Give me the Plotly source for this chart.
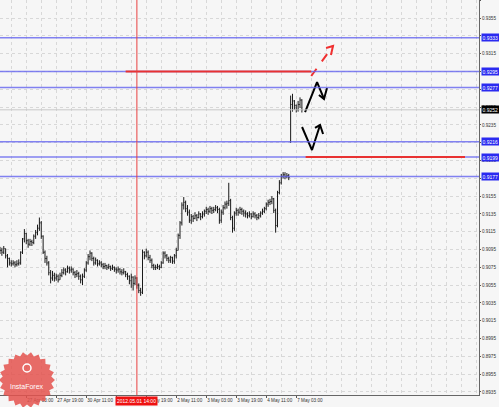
import numpy as np
import plotly.graph_objects as go

# H1 bars, prices in pips (0.9094 -> 9094)
opens = [9096, 9094, 9092, 9096, 9088, 9085, 9080, 9079, 9080, 9078,
         9079, 9080, 9092, 9107, 9113, 9105, 9101, 9104, 9103, 9110,
         9114, 9119, 9125, 9110, 9092, 9085, 9080, 9069, 9063, 9066,
         9063, 9065, 9061, 9066, 9069, 9072, 9070, 9074, 9072, 9073,
         9069, 9067, 9068, 9065, 9061, 9065, 9072, 9080, 9087, 9091,
         9085, 9080, 9083, 9079, 9080, 9078, 9076, 9077, 9075, 9076,
         9074, 9075, 9073, 9072, 9073, 9070, 9069, 9070, 9067, 9065,
         9060, 9064, 9057, 9063, 9055, 9049, 9047, 9092, 9088, 9092,
         9086, 9083, 9077, 9075, 9075, 9076, 9075, 9080, 9091, 9088,
         9085, 9083, 9086, 9082, 9088, 9094, 9111, 9125, 9145, 9148,
         9141, 9137, 9128, 9132, 9130, 9133, 9131, 9135, 9132, 9135,
         9138, 9140, 9138, 9141, 9139, 9140, 9142, 9140, 9128, 9137,
         9142, 9146, 9147, 9150, 9131, 9119, 9136, 9139, 9137, 9140,
         9138, 9136, 9135, 9133, 9135, 9132, 9135, 9133, 9131, 9133,
         9136, 9138, 9141, 9146, 9148, 9149, 9152, 9139, 9122, 9159,
         9170, 9177, 9179, 9177, 9178, 9216, 9258, 9262, 9257, 9252,
         9258, 9263]
highs = [9098, 9097, 9099, 9096, 9090, 9086, 9083, 9083, 9082, 9083,
         9084, 9093, 9108, 9118, 9114, 9107, 9107, 9106, 9112, 9117,
         9123, 9131, 9127, 9111, 9094, 9088, 9082, 9072, 9071, 9069,
         9068, 9067, 9069, 9073, 9075, 9074, 9077, 9076, 9076, 9074,
         9071, 9072, 9070, 9067, 9068, 9074, 9082, 9090, 9094, 9092,
         9087, 9086, 9084, 9083, 9082, 9080, 9080, 9078, 9079, 9077,
         9078, 9076, 9075, 9076, 9074, 9073, 9074, 9071, 9069, 9066,
         9068, 9065, 9066, 9064, 9057, 9052, 9095, 9093, 9096, 9094,
         9089, 9085, 9079, 9078, 9079, 9078, 9082, 9093, 9093, 9090,
         9087, 9088, 9087, 9090, 9097, 9113, 9127, 9148, 9154, 9150,
         9145, 9140, 9135, 9134, 9137, 9135, 9138, 9136, 9138, 9140,
         9143, 9142, 9144, 9143, 9143, 9145, 9144, 9142, 9140, 9145,
         9149, 9150, 9170, 9152, 9133, 9138, 9142, 9141, 9143, 9142,
         9140, 9139, 9137, 9138, 9136, 9138, 9137, 9135, 9136, 9138,
         9141, 9143, 9148, 9151, 9152, 9155, 9153, 9141, 9161, 9173,
         9180, 9182, 9182, 9181, 9180, 9268, 9270, 9263, 9258, 9262,
         9266, 9264]
lows = [9090, 9088, 9090, 9085, 9075, 9077, 9076, 9077, 9075, 9076,
        9077, 9078, 9090, 9103, 9101, 9097, 9099, 9099, 9101, 9107,
        9111, 9116, 9107, 9090, 9080, 9077, 9066, 9057, 9060, 9059,
        9060, 9058, 9061, 9064, 9067, 9066, 9069, 9068, 9069, 9066,
        9063, 9064, 9061, 9057, 9055, 9063, 9070, 9078, 9083, 9082,
        9077, 9078, 9076, 9077, 9075, 9073, 9073, 9072, 9073, 9071,
        9072, 9070, 9068, 9069, 9067, 9066, 9067, 9064, 9061, 9056,
        9052, 9049, 9055, 9051, 9046, 9043, 9045, 9084, 9086, 9083,
        9080, 9074, 9072, 9072, 9073, 9072, 9074, 9079, 9085, 9082,
        9080, 9080, 9079, 9079, 9085, 9094, 9107, 9122, 9140, 9137,
        9133, 9125, 9124, 9126, 9129, 9127, 9130, 9128, 9130, 9132,
        9135, 9134, 9136, 9135, 9136, 9138, 9136, 9124, 9125, 9134,
        9140, 9141, 9144, 9128, 9114, 9116, 9133, 9133, 9135, 9134,
        9132, 9131, 9130, 9131, 9129, 9131, 9130, 9128, 9129, 9131,
        9134, 9136, 9139, 9143, 9145, 9146, 9136, 9114, 9120, 9157,
        9168, 9175, 9174, 9175, 9173, 9215, 9250, 9252, 9249, 9250,
        9254, 9249]
closes = [9094, 9092, 9096, 9088, 9085, 9080, 9079, 9080, 9078, 9079,
          9080, 9092, 9107, 9113, 9105, 9101, 9104, 9103, 9110, 9114,
          9119, 9125, 9110, 9092, 9085, 9080, 9069, 9063, 9066, 9063,
          9065, 9061, 9066, 9069, 9072, 9070, 9074, 9072, 9073, 9069,
          9067, 9068, 9065, 9061, 9065, 9072, 9080, 9087, 9091, 9085,
          9080, 9083, 9079, 9080, 9078, 9076, 9077, 9075, 9076, 9074,
          9075, 9073, 9072, 9073, 9070, 9069, 9070, 9067, 9065, 9060,
          9064, 9057, 9063, 9055, 9049, 9047, 9092, 9088, 9092, 9086,
          9083, 9077, 9075, 9075, 9076, 9075, 9080, 9091, 9088, 9085,
          9083, 9086, 9082, 9088, 9094, 9111, 9125, 9145, 9148, 9141,
          9137, 9128, 9132, 9130, 9133, 9131, 9135, 9132, 9135, 9138,
          9140, 9138, 9141, 9139, 9140, 9142, 9140, 9128, 9137, 9142,
          9146, 9147, 9150, 9131, 9119, 9136, 9139, 9137, 9140, 9138,
          9136, 9135, 9133, 9135, 9132, 9135, 9133, 9131, 9133, 9136,
          9138, 9141, 9146, 9148, 9149, 9152, 9139, 9122, 9159, 9170,
          9177, 9179, 9177, 9178, 9176, 9258, 9262, 9257, 9252, 9258,
          9263, 9252]

# time axis labels (bar index of each label)
tick_bars = [14, 30, 46, 62, 78, 94, 110, 126, 142, 158]
tick_text = ["27 Apr 03:00", "27 Apr 19:00", "30 Apr 11:00", "1 May 03:00",
             "1 May 19:00", "2 May 11:00", "3 May 03:00", "3 May 19:00",
             "4 May 11:00", "7 May 03:00"]

# price scale labels (the ones under the level boxes are hidden)
price_ticks = [0.8935, 0.8955, 0.8975, 0.8995, 0.9015, 0.9035, 0.9055, 0.9075,
               0.9095, 0.9115, 0.9135, 0.9155, 0.9175, 0.9195, 0.9215, 0.9235,
               0.9255, 0.9275, 0.9295, 0.9315, 0.9335, 0.9355, 0.9375]
price_text = ["0.8935", "0.8955", "0.8975", "0.8995", "0.9015", "0.9035", "0.9055", "0.9075",
              "0.9095", "0.9115", "0.9135", "0.9155", "", "0.9195", "", "0.9235",
              "0.9255", "", "", "0.9315", "", "0.9355", "0.9375"]

# horizontal levels
blue_levels = [0.9333, 0.9295, 0.9277, 0.9216, 0.9199, 0.9177]
red_levels = [0.9295, 0.9199]
red_from = [67, 163]
red_to = [166, 248]
bid_price = 0.9252

crosshair_bar = 73
crosshair_text = "2012.05.01 14:00"

# forecast arrows (bar index, price)
fc_up_x = [166, 177.6]
fc_up_y = [0.9290, 0.93237]
fc_up_head_x = [173.9, 177.6, 176.5]
fc_up_head_y = [0.93215, 0.93237, 0.93136]
zig1_x = [162.7, 169.1, 172.8]
zig1_y = [0.92495, 0.9283, 0.92642]
zig1_head_x = [170.1, 172.8, 174.4]
zig1_head_y = [0.92686, 0.92642, 0.92765]
zig2_x = [161.1, 166.4, 170.7]
zig2_y = [0.92327, 0.92068, 0.92349]
zig2_head_x = [168.0, 170.7, 172.3]
zig2_head_y = [0.92316, 0.92349, 0.92248]

W, H = 499, 407
L, R, T, B = 0, 20, 0, 12
PW, PH = W - L - R, H - T - B
FONT = "Liberation Sans"

bars = list(range(len(closes)))
fig = go.Figure()

fig.add_trace(go.Ohlc(
    x=bars,
    open=np.array(opens) / 10000, high=np.array(highs) / 10000,
    low=np.array(lows) / 10000, close=np.array(closes) / 10000,
    increasing_line_color="#1a1a1a", decreasing_line_color="#1a1a1a",
    line_width=1, tickwidth=0.4, hoverinfo="skip", showlegend=False,
))

arrow_sets = [
    (fc_up_x, fc_up_y, "#f03030", "dash"),
    (fc_up_head_x, fc_up_head_y, "#f03030", "solid"),
    (zig1_x, zig1_y, "#000000", "solid"),
    (zig1_head_x, zig1_head_y, "#000000", "solid"),
    (zig2_x, zig2_y, "#000000", "solid"),
    (zig2_head_x, zig2_head_y, "#000000", "solid"),
]
for ax, ay, col, dash in arrow_sets:
    fig.add_trace(go.Scatter(x=ax, y=ay, mode="lines",
                             line=dict(color=col, width=2, dash=dash),
                             hoverinfo="skip", showlegend=False))

shapes = []
shapes.append(dict(type="line", xref="paper", x0=0, x1=1, yref="y",
                   y0=bid_price, y1=bid_price,
                   line=dict(color="#c8c8c8", width=1)))
for lv in blue_levels:
    shapes.append(dict(type="line", xref="paper", x0=0, x1=1, yref="y",
                       y0=lv, y1=lv, line=dict(color="rgba(100,100,240,0.8)", width=1.5)))
for lv, a, b in zip(red_levels, red_from, red_to):
    shapes.append(dict(type="line", xref="x", x0=a, x1=b, yref="y",
                       y0=lv, y1=lv, line=dict(color="#e83232", width=2)))
shapes.append(dict(type="line", xref="x", x0=crosshair_bar, x1=crosshair_bar,
                   yref="paper", y0=0, y1=1, line=dict(color="#e84040", width=1)))

# InstaForex badge (serrated circle) in paper coordinates
cx, cy, ro, ri, teeth = 27, 380, 28, 24.5, 22
ang = np.linspace(0, 2 * np.pi, teeth * 2, endpoint=False)
rad = np.where(np.arange(teeth * 2) % 2 == 0, ro, ri)
px = cx + rad * np.cos(ang)
py = cy + rad * np.sin(ang)
path = "M " + " L ".join(f"{(x - L) / PW:.4f},{1 - (y - T) / PH:.4f}" for x, y in zip(px, py)) + " Z"
shapes.append(dict(type="path", xref="paper", yref="paper", path=path,
                   fillcolor="rgba(228,82,78,0.85)", line=dict(width=0), layer="above"))
shapes.append(dict(type="circle", xref="paper", yref="paper",
                   x0=(cx - 4) / PW, x1=(cx + 4) / PW,
                   y0=1 - (cy - 16) / PH, y1=1 - (cy - 8) / PH,
                   line=dict(color="white", width=1.5), layer="above"))

annotations = []
for lv in blue_levels:
    annotations.append(dict(xref="paper", x=1.005, xanchor="left", yref="y", y=lv,
                            text=f"{lv:.4f}", showarrow=False, bgcolor="#2a2af0",
                            font=dict(size=5, color="white", family=FONT),
                            borderpad=0.5))
annotations.append(dict(xref="paper", x=1.005, xanchor="left", yref="y", y=bid_price,
                        text=f"{bid_price:.4f}", showarrow=False, bgcolor="#000000",
                        font=dict(size=5, color="white", family=FONT),
                        borderpad=0.5))
annotations.append(dict(xref="x", x=crosshair_bar, yref="paper", y=0, yanchor="top",
                        yshift=-1, text=crosshair_text, showarrow=False, bgcolor="#ee1111",
                        font=dict(size=5, color="white", family=FONT),
                        borderpad=1))
annotations.append(dict(xref="paper", x=(cx - L) / PW, xanchor="center",
                        yref="paper", y=1 - (cy + 6 - T) / PH, yanchor="middle",
                        text="InstaForex", showarrow=False,
                        font=dict(size=7, color="white", family=FONT)))

y_lo = 0.93754 - PH / 8900
fig.update_layout(
    width=W, height=H,
    margin=dict(l=L, r=R, t=T, b=B),
    paper_bgcolor="#f6f6f6", plot_bgcolor="#f6f6f6",
    shapes=shapes, annotations=annotations,
    xaxis=dict(range=[0, PW / 1.875], rangeslider=dict(visible=False),
               tickvals=tick_bars, ticktext=tick_text, ticklabelposition="outside right",
               tickangle=0,
               tickfont=dict(size=4.6, color="#333333", family=FONT),
               ticks="outside", ticklen=2, tickcolor="#555555",
               showgrid=True, gridcolor="#d8d8d8", griddash="dot", gridwidth=1,
               minor=dict(tick0=6, dtick=8, showgrid=True, gridcolor="#d8d8d8", griddash="dot"),
               showline=True, linecolor="#666666", linewidth=1, mirror=True, zeroline=False),
    yaxis=dict(range=[y_lo, 0.93754], side="right",
               tickvals=price_ticks, ticktext=price_text,
               tickfont=dict(size=4.6, color="#333333", family=FONT),
               ticks="outside", ticklen=1, tickcolor="#555555",
               showgrid=True, gridcolor="#d8d8d8", griddash="dot", gridwidth=1,
               showline=True, linecolor="#666666", linewidth=1, mirror=True, zeroline=False),
)

fig.write_html("out.html", config={"displayModeBar": False},
               post_script="document.body.style.margin='0';")
